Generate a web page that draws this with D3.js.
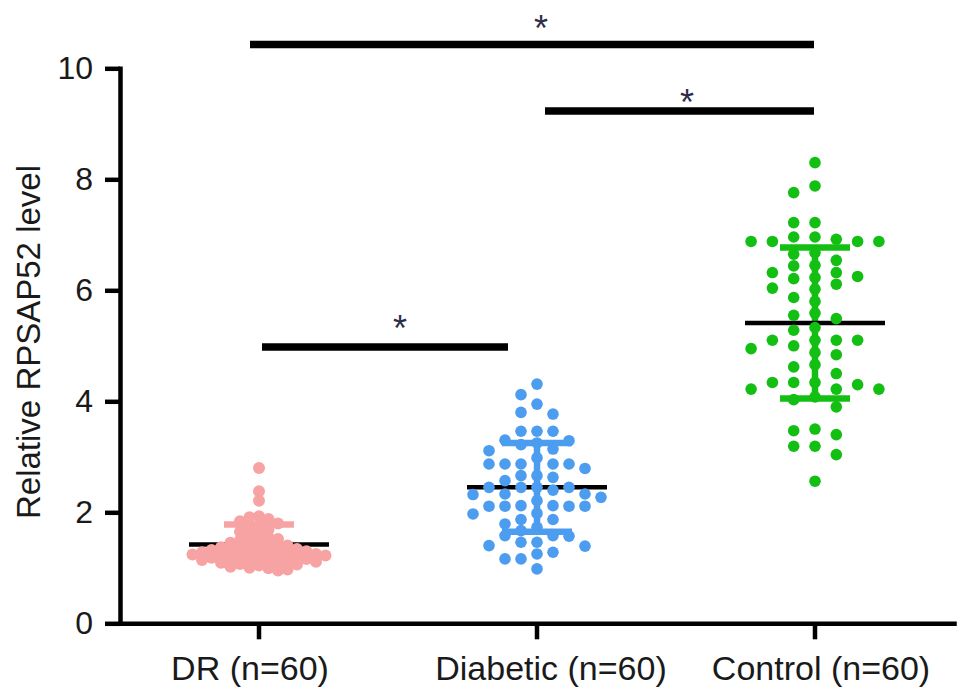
<!DOCTYPE html>
<html>
<head>
<meta charset="utf-8">
<script src="https://cdn.jsdelivr.net/npm/d3@7"></script>
<style>
  body { margin: 0; background: #fff; }
  text { font-family: "Liberation Sans", Arial, Helvetica, sans-serif; }
</style>
</head>
<body>
<script>
// groups and tick labels
var groups = ["DR (n=60)", "Diabetic (n=60)", "Control (n=60)"];
var yTicks = [0, 2, 4, 6, 8, 10];

// values (relative RPSAP52 level), 60 per group
var drValues = [2.80, 2.38, 2.21, 1.93, 1.91, 1.88, 1.84, 1.80, 1.76, 1.72,
                1.69, 1.65, 1.62, 1.58, 1.55, 1.52, 1.49, 1.47, 1.45, 1.43,
                1.41, 1.40, 1.38, 1.37, 1.35, 1.34, 1.33, 1.32, 1.31, 1.30,
                1.29, 1.28, 1.27, 1.26, 1.25, 1.24, 1.24, 1.23, 1.22, 1.21,
                1.20, 1.19, 1.18, 1.17, 1.16, 1.15, 1.14, 1.13, 1.12, 1.11,
                1.10, 1.09, 1.07, 1.06, 1.04, 1.02, 1.00, 0.99, 0.97, 0.95];
var diabeticValues = [4.31, 4.12, 3.95, 3.77, 3.80, 3.46, 3.46, 3.46, 3.29, 3.30,
                      3.22, 3.14, 3.25, 2.98, 2.87, 2.87, 2.87, 2.87, 2.87, 2.79,
                      2.63, 2.66, 2.66, 2.40, 2.45, 2.45, 2.45, 2.32, 2.45, 2.33,
                      2.33, 2.11, 2.21, 2.12, 2.12, 2.11, 2.11, 2.11, 1.97, 1.87,
                      1.87, 1.79, 1.67, 1.58, 1.57, 1.40, 1.46, 1.46, 1.39, 1.28,
                      1.25, 1.16, 1.16, 0.98, 3.11, 2.57, 2.27, 1.98, 1.73, 1.58];
var controlValues = [8.30, 7.88, 7.76, 7.22, 7.22, 6.88, 6.88, 6.96, 6.96, 6.92,
                     6.88, 6.88, 6.68, 6.44, 6.23, 6.32, 6.54, 6.32, 6.11, 5.87,
                     6.21, 6.04, 5.59, 5.49, 5.33, 5.10, 5.10, 5.10, 5.00, 5.10,
                     4.84, 4.88, 4.66, 4.50, 4.34, 4.34, 4.34, 4.22, 4.22, 4.22,
                     4.03, 4.08, 3.90, 3.47, 3.50, 3.40, 3.19, 3.19, 3.04, 2.56,
                     6.65, 6.45, 6.25, 6.02, 5.80, 5.55, 5.28, 4.95, 4.62, 4.30];

// mean and SD as drawn in the picture
var means = [1.42, 2.45, 5.41];
var sds = [0.36, 0.80, 1.36];

// significance comparisons: group indices and bracket height
var compFrom = [0, 1, 0];
var compTo = [2, 2, 1];
var compLevel = [10.43, 9.23, 4.98];
var compLabel = ["*", "*", "*"];

// styling
var colors = ["#f7a3a3", "#4c9df0", "#14bf14"];
var slotW = [9.5, 16, 21.3];
var minDy = [7.5, 11, 11.5];
var dotR = [6, 5.8, 5.8];
var labelDx = [-9, 14, 6];
var compDx = [[-9, -1], [8, -1], [3, -29]];
var starDx = [4, 11, 2];
var starDy = [23, 16, 26];

var width = 969, height = 700;

var svg = d3.select("body").append("svg")
    .attr("width", width)
    .attr("height", height);

var y = d3.scaleLinear()
    .domain([0, 10])
    .range([623.3, 68.3]);

var x = d3.scaleBand()
    .domain(groups)
    .range([120, 954]);

function cx(i) { return x(groups[i]) + x.bandwidth() / 2; }

// simple column swarm: each value takes the nearest free slot around the centre
function swarm(values, w, dy) {
  var placed = [];
  values.slice().sort(function(a, b) { return b - a; }).forEach(function(v) {
    var py = y(v);
    for (var k = 0; k < 60; k++) {
      var slot = k === 0 ? 0 : (k % 2 ? -Math.ceil(k / 2) : Math.ceil(k / 2));
      var hit = placed.some(function(p) { return p.slot === slot && Math.abs(p.py - py) < dy; });
      if (!hit) { placed.push({v: v, py: py, slot: slot, dx: slot * w}); break; }
    }
  });
  return placed;
}

var allValues = [drValues, diabeticValues, controlValues];

// axes
var yAxis = d3.axisLeft(y)
    .tickValues(yTicks)
    .tickSize(15)
    .tickSizeOuter(0)
    .tickPadding(12);

var xAxis = d3.axisBottom(x)
    .tickSize(16)
    .tickSizeOuter(0);

var gy = svg.append("g")
    .attr("transform", "translate(120,0)")
    .call(yAxis);
gy.selectAll("text")
    .attr("font-size", 32)
    .attr("fill", "#1a1a1a")
    .attr("font-family", "Liberation Sans, Arial, sans-serif");

var gx = svg.append("g")
    .attr("transform", "translate(0,623.3)")
    .call(xAxis);
gx.selectAll("text")
    .attr("font-size", 34)
    .attr("fill", "#1a1a1a")
    .attr("font-family", "Liberation Sans, Arial, sans-serif")
    .attr("y", 57)
    .attr("dy", 0)
    .attr("dx", function(d, i) { return labelDx[i]; });

svg.selectAll(".domain")
    .attr("stroke", "#000")
    .attr("stroke-width", 4.5)
    .attr("stroke-linecap", "square");
svg.selectAll(".tick line")
    .attr("stroke", "#000")
    .attr("stroke-width", 4.5);

// y title
svg.append("text")
    .attr("transform", "translate(40,342) rotate(-90)")
    .attr("text-anchor", "middle")
    .attr("font-size", 33)
    .attr("fill", "#1a1a1a")
    .text("Relative RPSAP52 level");

// error bars (mean +/- SD)
var capW = 35, meanW = 70;
groups.forEach(function(g, i) {
  var c = cx(i);
  var eg = svg.append("g").attr("stroke", colors[i]).attr("stroke-width", 6.5);
  eg.append("line")
      .attr("x1", c).attr("x2", c)
      .attr("y1", y(means[i] + sds[i])).attr("y2", y(means[i] - sds[i]));
  [means[i] + sds[i], means[i] - sds[i]].forEach(function(v) {
    eg.append("line")
        .attr("x1", c - capW).attr("x2", c + capW)
        .attr("y1", y(v)).attr("y2", y(v));
  });
});

// mean lines
svg.append("g").selectAll("line")
    .data(means)
    .enter().append("line")
    .attr("x1", function(d, i) { return cx(i) - meanW; })
    .attr("x2", function(d, i) { return cx(i) + meanW; })
    .attr("y1", function(d) { return y(d); })
    .attr("y2", function(d) { return y(d); })
    .attr("stroke", "#000")
    .attr("stroke-width", 4.5);

// dots
allValues.forEach(function(vals, i) {
  var pts = swarm(vals, slotW[i], minDy[i]);
  svg.append("g").selectAll("circle")
      .data(pts)
      .enter().append("circle")
      .attr("cx", function(d) { return cx(i) + d.dx; })
      .attr("cy", function(d) { return d.py; })
      .attr("r", dotR[i])
      .attr("fill", colors[i]);
});

// significance brackets
compFrom.forEach(function(a, k) {
  var b = compTo[k];
  var ly = y(compLevel[k]);
  svg.append("line")
      .attr("x1", cx(a) + compDx[k][0])
      .attr("x2", cx(b) + compDx[k][1])
      .attr("y1", ly).attr("y2", ly)
      .attr("stroke", "#000")
      .attr("stroke-width", 7.5);
  svg.append("text")
      .attr("x", (cx(a) + cx(b)) / 2 + starDx[k])
      .attr("y", ly - starDy[k] + 20)
      .attr("text-anchor", "middle")
      .attr("font-size", 36)
      .attr("fill", "#2d2d4a")
      .text(compLabel[k]);
});
</script>
</body>
</html>
